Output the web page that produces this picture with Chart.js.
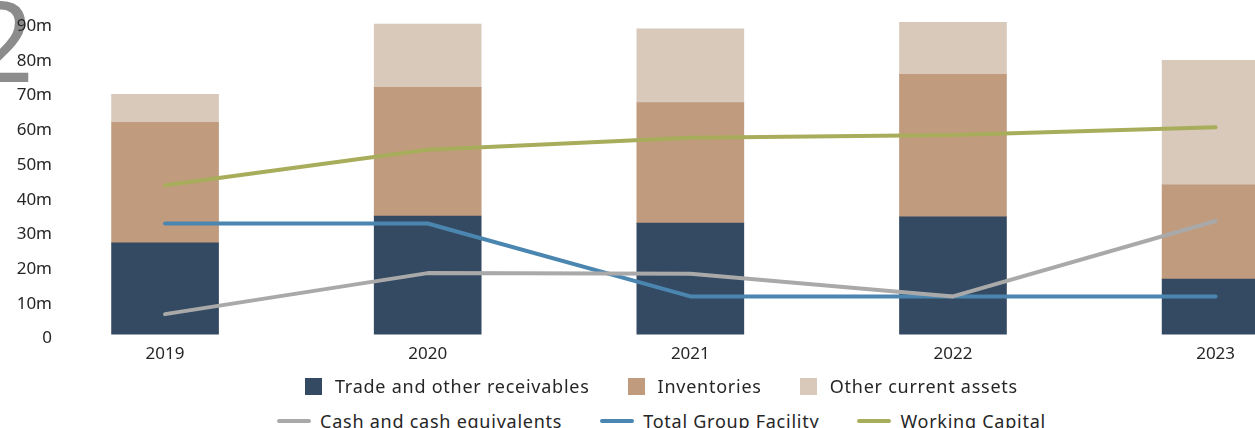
<!DOCTYPE html>
<html>
<head>
<meta charset="utf-8">
<title>Working capital</title>
<script src="https://cdn.jsdelivr.net/npm/chart.js@4.4.1/dist/chart.umd.min.js"></script>
<style>
    body {
        margin: 0;
        width: 1255px;
        height: 428px;
        overflow: hidden;
        position: relative;
        background: #fff;
        font-family: 'Noto Sans', sans-serif;
        color: #262626;
    }
    #chart-wrap {
        position: absolute;
        left: 0;
        top: 0;
        width: 1255px;
        height: 377px;
    }
    #page-no {
        position: absolute;
        left: -30px;
        top: -17px;
        font-size: 112px;
        line-height: 1;
        color: #8c8c8c;
    }
    .legend-row {
        position: absolute;
        left: 0;
        width: 1323px;
        display: flex;
        justify-content: center;
        gap: 38px;
        font-size: 18px;
        letter-spacing: 0.75px;
        white-space: nowrap;
    }
    #legend-row-1 { top: 373px; }
    #legend-row-2 { top: 408px; }
    .legend-item {
        display: flex;
        align-items: center;
        height: 26px;
    }
    .legend-box {
        width: 17px;
        height: 17px;
        margin-right: 13px;
    }
    .legend-line {
        width: 34px;
        height: 4px;
        border-radius: 2px;
        margin-right: 9px;
    }
</style>
</head>
<body>
<div id="page-no">2</div>
<div id="chart-wrap"><canvas id="wc-chart"></canvas></div>
<div class="legend-row" id="legend-row-1"></div>
<div class="legend-row" id="legend-row-2"></div>

<script>
// values in £m
const years = [2019, 2020, 2021, 2022, 2023];
const tradeReceivables = [26.4, 34.1, 32.1, 33.9, 16.0];
const inventories = [34.7, 37.1, 34.7, 41.0, 27.1];
const otherCurrentAssets = [8.1, 18.2, 21.2, 15.1, 35.9];
const cashEquivalents = [5.9, 17.7, 17.5, 11.0, 32.7];
const groupFacility = [32.0, 32.0, 11.0, 11.0, 11.0];
const workingCapital = [43.0, 53.2, 56.7, 57.5, 59.7];
const yTicks = [0, 10, 20, 30, 40, 50, 60, 70, 80, 90];

const textColor = '#262626';
const tickFont = { family: "'Noto Sans', sans-serif", size: 17 };

const toPoints = values => years.map((year, i) => ({ x: year, y: values[i] }));

const barSet = (label, values, color) => ({
    type: 'bar',
    label,
    data: toPoints(values),
    backgroundColor: color,
    borderWidth: 0,
    barThickness: 107,
    stack: 'assets',
    order: 1
});

const lineSet = (label, values, color, stack) => ({
    type: 'line',
    label,
    data: toPoints(values),
    borderColor: color,
    backgroundColor: color,
    borderWidth: 4,
    borderCapStyle: 'round',
    borderJoinStyle: 'round',
    pointRadius: 0,
    pointHoverRadius: 0,
    tension: 0,
    fill: false,
    stack,
    order: 0
});

const chart = new Chart(document.getElementById('wc-chart'), {
    type: 'bar',
    data: {
        datasets: [
            barSet('Trade and other receivables', tradeReceivables, '#344a62'),
            barSet('Inventories', inventories, '#c19b7d'),
            barSet('Other current assets', otherCurrentAssets, '#d8c9bb'),
            lineSet('Cash and cash equivalents', cashEquivalents, '#a9a9a9', 'cash'),
            lineSet('Total Group Facility', groupFacility, '#4a86b0', 'facility'),
            lineSet('Working Capital', workingCapital, '#a8ad5b', 'wc')
        ]
    },
    options: {
        responsive: true,
        maintainAspectRatio: false,
        animation: false,
        layout: { padding: { top: 22, bottom: 4, left: 0, right: 0 } },
        plugins: {
            legend: { display: false },
            tooltip: { enabled: false }
        },
        scales: {
            x: {
                type: 'linear',
                stacked: true,
                offset: false,
                min: 2018.6,
                max: 2023.15,
                grid: { display: false, drawTicks: false },
                border: { display: false },
                ticks: {
                    stepSize: 1,
                    includeBounds: false,
                    padding: 9,
                    color: textColor,
                    font: tickFont,
                    maxRotation: 0,
                    callback: value => String(value)
                }
            },
            y: {
                stacked: true,
                min: 0,
                max: 90,
                grid: { display: false, drawTicks: false },
                border: { display: false },
                afterFit: scale => { scale.width = 60; },
                afterBuildTicks: scale => {
                    scale.ticks = yTicks.map(value => ({ value }));
                },
                ticks: {
                    padding: 8,
                    labelOffset: 4,
                    color: textColor,
                    font: tickFont,
                    callback: value => value === 0 ? '0' : value + 'm'
                }
            }
        }
    }
});

// html legend, bars on the first row and lines on the second
chart.data.datasets.forEach(ds => {
    const item = document.createElement('div');
    item.className = 'legend-item';
    const marker = document.createElement('span');
    marker.className = ds.type === 'bar' ? 'legend-box' : 'legend-line';
    marker.style.background = ds.type === 'bar' ? ds.backgroundColor : ds.borderColor;
    const text = document.createElement('span');
    text.textContent = ds.label;
    item.appendChild(marker);
    item.appendChild(text);
    const row = ds.type === 'bar' ? 'legend-row-1' : 'legend-row-2';
    document.getElementById(row).appendChild(item);
});
</script>
</body>
</html>
